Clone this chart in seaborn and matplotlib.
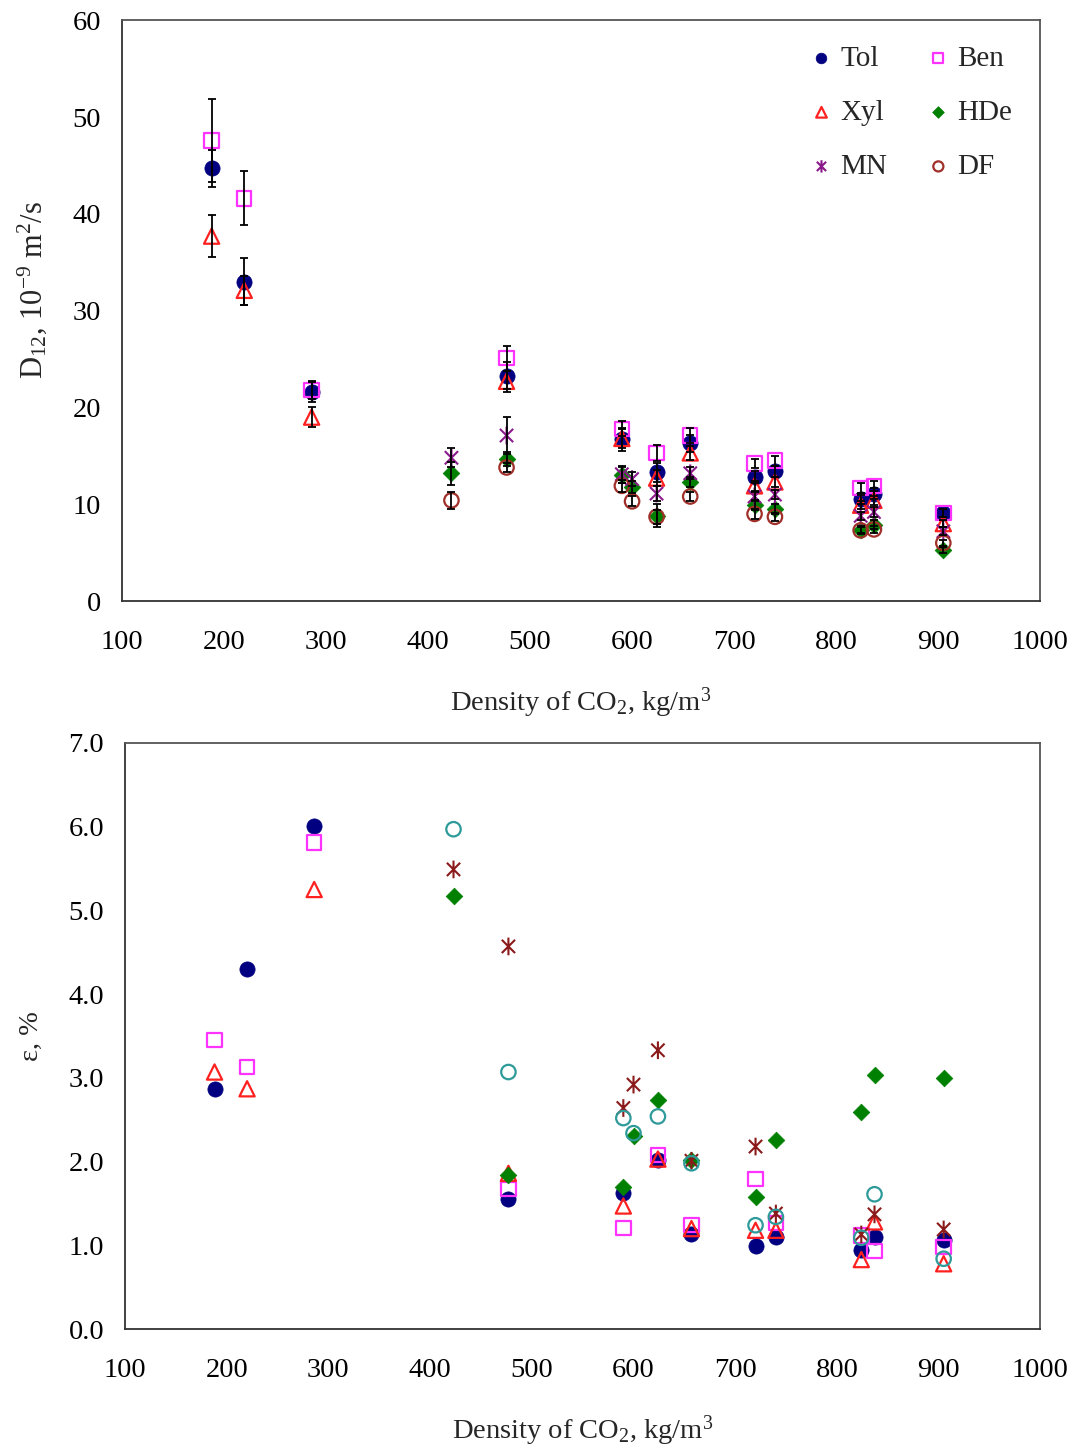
import numpy as np
import pandas as pd
import matplotlib
matplotlib.use("Agg")
import matplotlib.pyplot as plt
from matplotlib.path import Path
import seaborn as sns

# ---------------- data ----------------
dens_aro = [188, 220, 286, 477, 590, 624, 657, 720, 740, 824, 837, 905]
dens_oth = [423, 477, 590, 600, 624, 657, 720, 740, 824, 837, 905]

# Top panel: D12, 1e-9 m2/s
d_tol = [44.7, 33.0, 21.6, 23.3, 16.7, 13.3, 16.3, 12.8, 13.4, 10.5, 11.1, 9.1]
d_ben = [47.6, 41.6, 21.8, 25.1, 17.8, 15.3, 17.1, 14.2, 14.5, 11.7, 11.9, 9.1]
d_xyl = [37.7, 32.1, 19.0, 22.7, 16.8, 12.7, 15.3, 11.9, 12.3, 9.9, 10.4, 8.0]
d_mn = [14.8, 17.1, 13.1, 12.6, 11.1, 13.2, 10.8, 11.0, 8.8, 9.2, 7.2]
d_hde = [13.2, 14.7, 13.0, 11.8, 8.8, 12.3, 9.9, 9.5, 7.3, 7.9, 5.3]
d_df = [10.4, 13.8, 11.9, 10.3, 8.7, 10.8, 9.0, 8.7, 7.3, 7.4, 6.0]

# error bars (estimated)
e_tol = [1.9, 2.4, 1.0, 1.4, 1.2, 1.0, 0.9, 0.6, 0.6, 0.5, 0.6, 0.4]
e_ben = [4.3, 2.8, 0.9, 1.3, 0.8, 0.8, 0.8, 0.5, 0.5, 0.5, 0.5, 0.4]
e_xyl = [2.2, 1.5, 1.0, 1.1, 1.0, 0.8, 0.7, 0.5, 0.5, 0.4, 0.5, 0.4]
e_mn = [1.0, 1.9, 0.9, 0.7, 0.8, 0.6, 0.5, 0.5, 0.4, 0.5, 0.4]
e_hde = [1.2, 0.7, 0.8, 0.6, 1.2, 0.5, 0.5, 0.5, 0.4, 0.5, 0.3]
e_df = [0.9, 0.5, 0.6, 0.5, 0.7, 0.5, 0.5, 0.4, 0.3, 0.4, 0.3]

# Bottom panel: epsilon, %
p_tol = [2.87, 4.30, 6.01, 1.55, 1.62, 2.02, 1.14, 0.99, 1.10, 0.94, 1.10, 1.06]
p_ben = [3.45, 3.13, 5.81, 1.67, 1.21, 2.08, 1.24, 1.79, 1.27, 1.12, 0.93, 0.98]
p_xyl = [3.07, 2.87, 5.25, 1.86, 1.47, 2.03, 1.20, 1.18, 1.18, 0.83, 1.28, 0.78]
p_mn = [5.49, 4.57, 2.64, 2.92, 3.33, 2.01, 2.18, 1.38, 1.13, 1.37, 1.19]
p_hde = [5.17, 1.84, 1.70, 2.31, 2.74, 2.02, 1.58, 2.26, 2.59, 3.03, 3.00]
p_df = [5.97, 3.07, 2.52, 2.34, 2.54, 1.98, 1.24, 1.34, 1.09, 1.61, 0.84]

x_ticks = list(range(100, 1001, 100))
y_ticks_top = list(range(0, 61, 10))
y_ticks_bot = [0, 1, 2, 3, 4, 5, 6, 7]

# ---------------- style ----------------
sns.set_theme(style="white")
plt.rcParams['font.family'] = ['Liberation Serif', 'DejaVu Serif']
plt.rcParams['mathtext.fontset'] = 'custom'
plt.rcParams['mathtext.rm'] = 'Liberation Serif'
plt.rcParams['mathtext.it'] = 'Liberation Serif:italic'
plt.rcParams['mathtext.default'] = 'rm'

C_TOL = '#000080'
C_BEN = '#FF33FF'
C_XYL = '#FF2020'
C_HDE = '#008000'
C_MN_TOP = '#8B1A8B'
C_DF_TOP = '#A0302A'
C_MN_BOT = '#8B1A1A'
C_DF_BOT = '#2E9A9A'

# Excel-like asterisk: X plus vertical bar
STAR = Path([(-0.75, -0.75), (0.75, 0.75), (-0.75, 0.75), (0.75, -0.75), (0, -1), (0, 1)],
            [Path.MOVETO, Path.LINETO, Path.MOVETO, Path.LINETO, Path.MOVETO, Path.LINETO])

fig = plt.figure(figsize=(10.78, 14.5), dpi=100)
ax1 = fig.add_axes([0.113, 0.5855, 0.852, 0.4005])
ax2 = fig.add_axes([0.116, 0.0834, 0.849, 0.4042])

MS = 120
FS = 20.5


def draw(ax, x, y, kind, color, label=None):
    if kind == 'circle_f':
        sns.scatterplot(x=x, y=y, ax=ax, marker='o', s=MS, color=color,
                        edgecolor=color, linewidth=0.5, label=label, zorder=2)
    elif kind == 'square_o':
        sns.scatterplot(x=x, y=y, ax=ax, marker='s', s=MS * 0.9, facecolor='none',
                        edgecolor=color, linewidth=1.6, label=label, zorder=2)
    elif kind == 'tri_o':
        sns.scatterplot(x=x, y=y, ax=ax, marker='^', s=MS * 1.0, facecolor='none',
                        edgecolor=color, linewidth=1.6, label=label, zorder=2)
    elif kind == 'diam_f':
        sns.scatterplot(x=x, y=y, ax=ax, marker='D', s=MS * 0.6, color=color,
                        edgecolor=color, linewidth=0.5, label=label, zorder=2)
    elif kind == 'star':
        sns.scatterplot(x=x, y=y, ax=ax, marker=STAR, s=MS * 1.35, facecolor='none',
                        edgecolor=color, linewidth=1.5, label=label, zorder=2)
    elif kind == 'circle_o':
        sns.scatterplot(x=x, y=y, ax=ax, marker='o', s=MS * 0.9, facecolor='none',
                        edgecolor=color, linewidth=1.6, label=label, zorder=2)


# top panel
draw(ax1, dens_aro, d_tol, 'circle_f', C_TOL, 'Tol')
draw(ax1, dens_aro, d_ben, 'square_o', C_BEN, 'Ben')
draw(ax1, dens_aro, d_xyl, 'tri_o', C_XYL, 'Xyl')
draw(ax1, dens_oth, d_hde, 'diam_f', C_HDE, 'HDe')
draw(ax1, dens_oth, d_mn, 'star', C_MN_TOP, 'MN')
draw(ax1, dens_oth, d_df, 'circle_o', C_DF_TOP, 'DF')

for xs, ys, es in [(dens_aro, d_tol, e_tol), (dens_aro, d_ben, e_ben),
                   (dens_aro, d_xyl, e_xyl), (dens_oth, d_mn, e_mn),
                   (dens_oth, d_hde, e_hde), (dens_oth, d_df, e_df)]:
    ax1.errorbar(xs, ys, yerr=es, fmt='none', ecolor='black', elinewidth=1.3,
                 capsize=3.2, capthick=1.3, zorder=3)

# bottom panel
draw(ax2, dens_aro, p_tol, 'circle_f', C_TOL)
draw(ax2, dens_aro, p_ben, 'square_o', C_BEN)
draw(ax2, dens_aro, p_xyl, 'tri_o', C_XYL)
draw(ax2, dens_oth, p_hde, 'diam_f', C_HDE)
draw(ax2, dens_oth, p_mn, 'star', C_MN_BOT)
draw(ax2, dens_oth, p_df, 'circle_o', C_DF_BOT)

# axes formatting
for ax in (ax1, ax2):
    ax.set_xlim(100, 1000)
    ax.set_xticks(x_ticks)
    ax.set_xticklabels([str(v) for v in x_ticks])
    for sp in ax.spines.values():
        sp.set_visible(True)
        sp.set_color('#555555')
        sp.set_linewidth(1.3)
    ax.spines['left'].set_color('#333333')
    ax.spines['bottom'].set_color('#333333')
    ax.tick_params(axis='both', direction='in', length=7, width=1.2, colors='#333333',
                   labelcolor='black', labelsize=FS)
    ax.tick_params(axis='x', pad=21)
    ax.tick_params(axis='y', pad=15)
    ax.tick_params(top=False, right=False)
    ax.set_xlabel('Density of CO$_2$, kg/m$^3$', fontsize=FS, labelpad=22)

ax1.set_ylim(0, 60)
ax1.set_yticks(y_ticks_top)
ax1.set_yticklabels([str(v) for v in y_ticks_top])
ax1.set_ylabel('D$_{12}$, 10$^{-9}$ m$^2$/s', fontsize=22)
ax1.yaxis.set_label_coords(-0.079, 0.535)

ax2.set_ylim(0, 7)
ax2.set_yticks(y_ticks_bot)
ax2.set_yticklabels([f'{v:.1f}' for v in y_ticks_bot])
ax2.set_ylabel('ε, %', fontsize=FS, labelpad=18)

# legend: rows Tol/Ben, Xyl/HDe, MN/DF
h, l = ax1.get_legend_handles_labels()
hd = dict(zip(l, h))
order = ['Tol', 'Xyl', 'MN', 'Ben', 'HDe', 'DF']
ax1.legend([hd[k] for k in order], order, ncol=2, frameon=False, fontsize=21,
           loc='upper right', bbox_to_anchor=(0.998, 1.002), labelspacing=0.95,
           columnspacing=1.25, handletextpad=0.15, handlelength=1.0, markerscale=0.7)

fig.savefig('out.png', dpi=100, facecolor='white')
